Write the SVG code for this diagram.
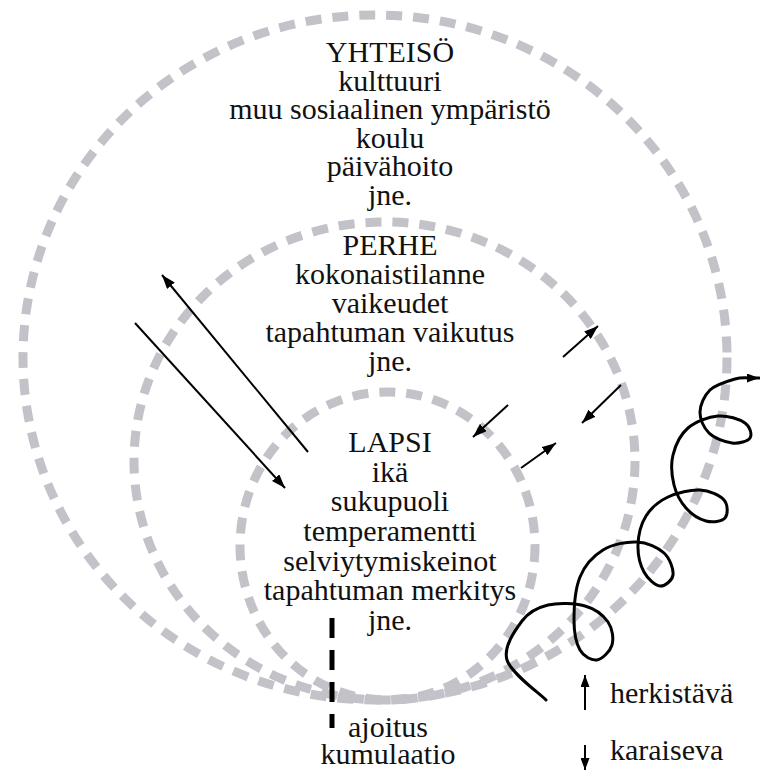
<svg xmlns="http://www.w3.org/2000/svg" width="760" height="771" viewBox="0 0 760 771">
  <defs>
    <marker id="ah" viewBox="0 0 14 10" refX="14" refY="5" markerWidth="14" markerHeight="10" markerUnits="userSpaceOnUse" orient="auto">
      <path d="M0,0 L14,5 L0,10 z" fill="#000"/>
    </marker>
    <marker id="ahs" viewBox="0 0 12 9" refX="12" refY="4.5" markerWidth="12" markerHeight="9" markerUnits="userSpaceOnUse" orient="auto">
      <path d="M0,0 L12,4.5 L0,9 z" fill="#000"/>
    </marker>
  </defs>
  <style>
    .ring { fill: none; stroke: #c3c2c9; stroke-width: 9; stroke-dasharray: 16 11; }
    .lbl { font-family: "Liberation Serif", "Times New Roman", serif; font-size: 30px; fill: #111; text-anchor: middle; }
    .leg { font-family: "Liberation Serif", "Times New Roman", serif; font-size: 30px; fill: #111; }
    .arr { stroke: #000; stroke-width: 2; fill: none; marker-end: url(#ah); }
  </style>
  <rect width="760" height="771" fill="#fff"/>

  <g id="yhteiso">
    <ellipse class="ring" cx="375" cy="357.5" rx="352" ry="342.5"/>
    <text class="lbl" x="390" y="62">YHTEISÖ</text>
    <text class="lbl" x="390" y="90.5">kulttuuri</text>
    <text class="lbl" x="390" y="119">muu sosiaalinen ympäristö</text>
    <text class="lbl" x="390" y="147.5">koulu</text>
    <text class="lbl" x="390" y="176">päivähoito</text>
    <text class="lbl" x="390" y="204.5">jne.</text>
  </g>

  <g id="perhe">
    <ellipse class="ring" cx="384.5" cy="461" rx="250.5" ry="239"/>
    <text class="lbl" x="390" y="255">PERHE</text>
    <text class="lbl" x="390" y="284">kokonaistilanne</text>
    <text class="lbl" x="390" y="313">vaikeudet</text>
    <text class="lbl" x="390" y="342">tapahtuman vaikutus</text>
    <text class="lbl" x="390" y="371">jne.</text>
  </g>

  <g id="lapsi">
    <ellipse class="ring" cx="387.5" cy="546" rx="147.5" ry="154"/>
    <text class="lbl" x="390" y="452">LAPSI</text>
    <text class="lbl" x="390" y="482">ikä</text>
    <text class="lbl" x="390" y="511">sukupuoli</text>
    <text class="lbl" x="390" y="541">temperamentti</text>
    <text class="lbl" x="390" y="571">selviytymiskeinot</text>
    <text class="lbl" x="390" y="600">tapahtuman merkitys</text>
    <text class="lbl" x="390" y="630">jne.</text>
  </g>

  <g id="connectors">
    <line class="arr" x1="308" y1="452" x2="162" y2="275"/>
    <line class="arr" x1="135" y1="323" x2="285" y2="488"/>
    <line class="arr" x1="563" y1="357" x2="598" y2="326"/>
    <line class="arr" x1="621" y1="385" x2="582" y2="423"/>
    <line class="arr" x1="508" y1="405" x2="473" y2="437"/>
    <line class="arr" x1="521" y1="468" x2="556" y2="443"/>
  </g>

  <g id="kehitys">
    <path fill="none" stroke="#000" stroke-width="3" stroke-linecap="round" marker-end="url(#ahs)" d="M546,700 C539.5,693.3 511,673.2 507,660 C503,646.8 515.2,630.2 522,621 C528.8,611.8 537.5,607.5 548,605 C558.5,602.5 575,603.2 585,606 C595,608.8 603.5,615.5 608,622 C612.5,628.5 613.8,638.7 612,645 C610.2,651.3 602.3,659.2 597,660 C591.7,660.8 583.8,656.7 580,650 C576.2,643.3 574,632.2 574,620 C574,607.8 575.2,588.7 580,577 C584.8,565.3 593.5,555.8 603,550 C612.5,544.2 626.8,541.5 637,542 C647.2,542.5 658,547.5 664,553 C670,558.5 673.7,569.5 673,575 C672.3,580.5 664.8,586.5 660,586 C655.2,585.5 647.7,578.8 644,572 C640.3,565.2 637.7,554.3 638,545 C638.3,535.7 641,524 646,516 C651,508 659,501.3 668,497 C677,492.7 690.7,489.5 700,490 C709.3,490.5 719.8,495.3 724,500 C728.2,504.7 728,514.5 725,518 C722,521.5 712.5,522.7 706,521 C699.5,519.3 691.3,514 686,508 C680.7,502 676.2,493.8 674,485 C671.8,476.2 670.7,464.5 673,455 C675.3,445.5 680.5,434.5 688,428 C695.5,421.5 708.5,416.8 718,416 C727.5,415.2 739.7,419.3 745,423 C750.3,426.7 752.2,434.7 750,438 C747.8,441.3 738.8,443.8 732,443 C725.2,442.2 714.3,438.2 709,433 C703.7,427.8 699.8,419.2 700,412 C700.2,404.8 704.2,395.5 710,390 C715.8,384.5 728,381 735,379 C742,377 749.2,378.2 752,378 L759,378"/>
  </g>

  <g id="ajoitus">
    <line x1="332" y1="618" x2="332" y2="728" stroke="#000" stroke-width="5" stroke-dasharray="20 12"/>
    <text class="lbl" x="388" y="737">ajoitus</text>
    <text class="lbl" x="388" y="764">kumulaatio</text>
  </g>

  <g id="legend">
    <line x1="585" y1="710" x2="585" y2="675" stroke="#000" stroke-width="2" marker-end="url(#ahs)"/>
    <text class="leg" x="610" y="703">herkistävä</text>
    <line x1="585" y1="745" x2="585" y2="770" stroke="#000" stroke-width="2" marker-end="url(#ahs)"/>
    <text class="leg" x="610" y="760">karaiseva</text>
  </g>
</svg>
